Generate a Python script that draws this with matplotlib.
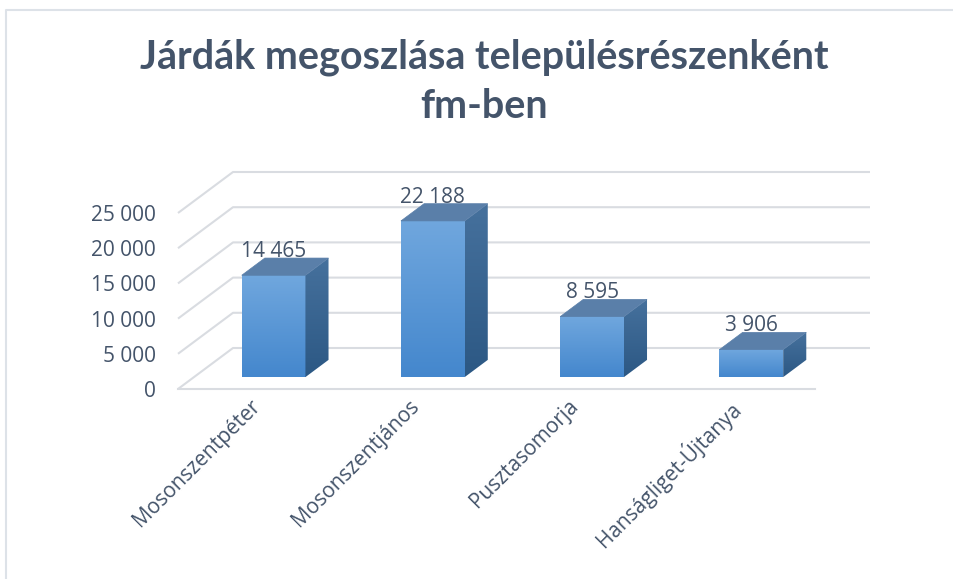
import numpy as np
import matplotlib.pyplot as plt
from matplotlib.patches import Polygon
from matplotlib.lines import Line2D
from matplotlib.colors import LinearSegmentedColormap

# adatok
categories = ['Mosonszentpéter', 'Mosonszentjános', 'Pusztasomorja', 'Hanságliget-Újtanya']
values = [14465, 22188, 8595, 3906]
yticks = [0, 5000, 10000, 15000, 20000, 25000]
title_lines = ['Járdák megoszlása településrészenként', 'fm-ben']

W, H = 954, 579
txt_color = '#44546A'
grid_color = '#D9DCE1'

fig = plt.figure(figsize=(W / 100, H / 100), dpi=100)
ax = fig.add_axes([0, 0, 1, 1])
ax.axis('off')

# pixel layout of the 3D box (front-left floor corner, scales, depth)
px_cat = 159.25          # pixels per category
px_val = 176 / 25000     # pixels per unit value
floor_x, floor_y = 178, 389
ddx = 55 / px_cat        # full depth of the box, data units
ddy = 41 / px_val
f0, f1 = 0.29, 0.71      # bar front / back inside the depth
bar_w = 0.4
n = len(categories)

# back wall + left wall gridlines
for v in yticks:
    ax.plot([-0.5, -0.5 + ddx, n - 0.5 + ddx], [v, v + ddy, v + ddy],
            color=grid_color, lw=1.5, solid_capstyle='butt', zorder=1)
ax.plot([-0.5, n - 0.5], [0, 0], color=grid_color, lw=1.5, zorder=1)

# y tick labels
for v in yticks:
    ax.text(-0.5 - 22 / px_cat, v, f'{v:,}'.replace(',', ' '), ha='right',
            va='center_baseline', fontsize=15, color=txt_color, family='Open Sans')

front_cmap = LinearSegmentedColormap.from_list('front', ['#4487CD', '#70A7DE'])
side_cmap = LinearSegmentedColormap.from_list('side', ['#2C5884', '#46719D'])
grad = np.linspace(0, 1, 256).reshape(-1, 1)

bx, by = (f1 - f0) * ddx, (f1 - f0) * ddy
for i, v in enumerate(values):
    xl = i - bar_w / 2 + f0 * ddx
    xr = i + bar_w / 2 + f0 * ddx
    yb = f0 * ddy
    yt = v + f0 * ddy
    # front face
    ax.imshow(grad, cmap=front_cmap, origin='lower', extent=[xl, xr, yb, yt],
              aspect='auto', interpolation='bilinear', zorder=3)
    # side face
    side = Polygon([(xr, yb), (xr + bx, yb + by), (xr + bx, yt + by), (xr, yt)],
                   closed=True, facecolor='none', edgecolor='none')
    ax.add_patch(side)
    im = ax.imshow(grad, cmap=side_cmap, origin='lower',
                   extent=[xr, xr + bx, yb, yt + by], aspect='auto',
                   interpolation='bilinear', zorder=3)
    im.set_clip_path(side)
    # top face
    ax.add_patch(Polygon([(xl, yt), (xr, yt), (xr + bx, yt + by), (xl + bx, yt + by)],
                         closed=True, facecolor='#5A7FA9', edgecolor='#5A7FA9',
                         lw=0.5, zorder=3))
    # value label
    ax.text(i + f0 * ddx, v + f1 * ddy + 1 / px_val, f'{v:,}'.replace(',', ' '),
            ha='center', va='baseline', fontsize=15, color=txt_color,
            family='Open Sans', zorder=4)

# category labels
for i, c in enumerate(categories):
    ax.text(i - 8 / px_cat, -7 / px_val, c, rotation=45, rotation_mode='anchor',
            ha='right', va='top', fontsize=15, color=txt_color, family='Open Sans')

ax.set_xlim(-0.5 - floor_x / px_cat, -0.5 + (W - floor_x) / px_cat)
ax.set_ylim(-(H - floor_y) / px_val, floor_y / px_val)

# title, fitted to the width of the original
t1 = fig.text(484.5 / W, 1 - 57 / H, title_lines[0], ha='center', va='center',
              fontsize=28, fontweight='bold', color=txt_color, family='Lato')
t2 = fig.text(484.5 / W, 1 - 107 / H, title_lines[1], ha='center', va='center',
              fontsize=28, fontweight='bold', color=txt_color, family='Lato')
fig.canvas.draw()
w1 = t1.get_window_extent().width
size = 28 * 689 / w1
t1.set_fontsize(size)
t2.set_fontsize(size)

# chart area border
bc = '#DDE2E8'
fig.add_artist(Line2D([6.5 / W, 6.5 / W, 1], [0, 1 - 9.5 / H, 1 - 9.5 / H],
                      transform=fig.transFigure, color=bc, lw=1.5))

fig.savefig('out.png', dpi=100)
